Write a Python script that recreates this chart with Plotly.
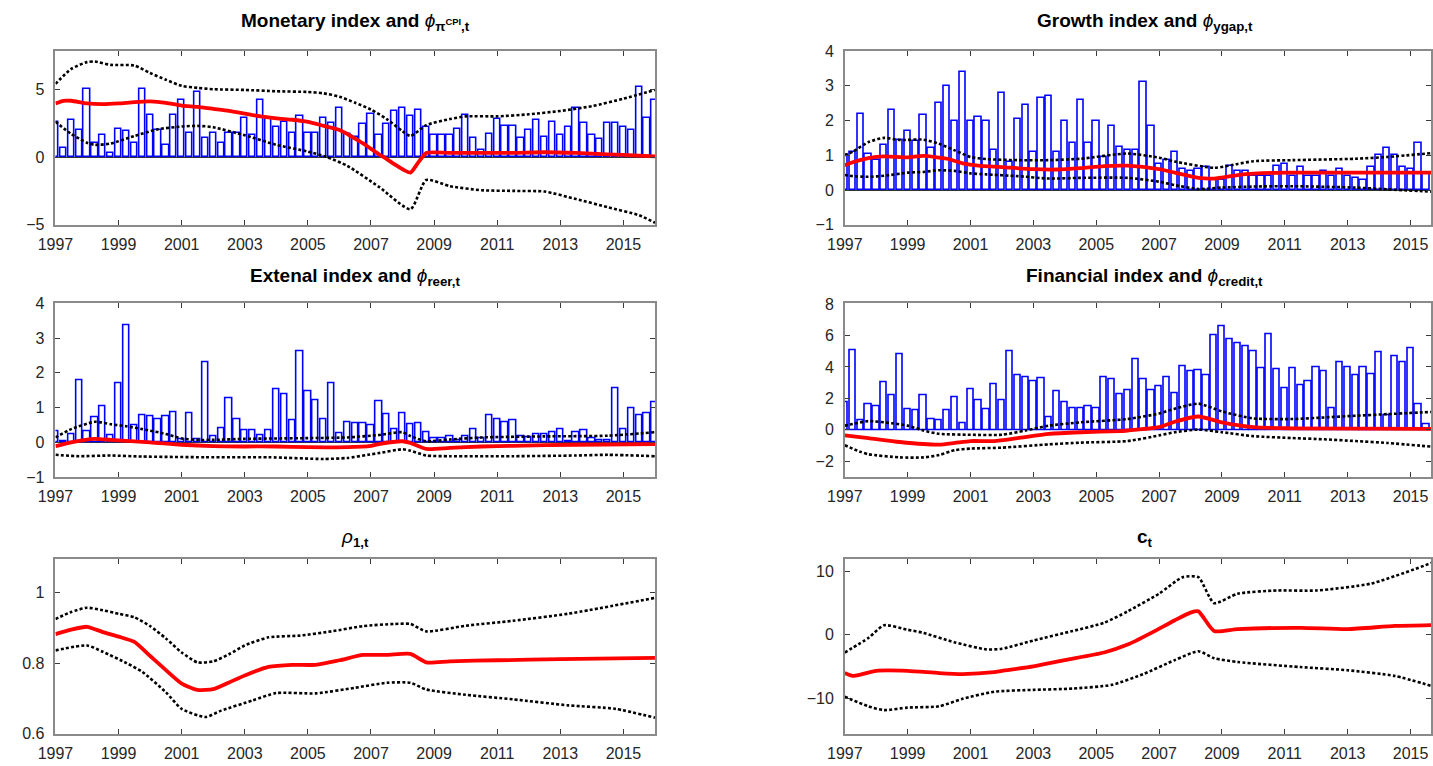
import plotly.graph_objects as go

# ---------------------------------------------------------------- data
# quarterly index values, first observation 1997Q1
monetary_index = [2.6, 0.7, 2.7, 2.0, 5.0, 1.0, 1.6, 0.3, 2.1, 1.9, 1.0, 5.0, 3.1, 2.0, 0.9, 3.1,
                  4.2, 1.8, 4.8, 1.4, 1.8, 1.0, 1.8, 1.8, 2.9, 1.6, 4.2, 2.8, 2.2, 2.6, 1.8, 3.0,
                  1.8, 1.8, 2.9, 2.5, 3.6, 1.7, 1.5, 2.4, 3.2, 1.6, 2.4, 3.4, 3.6, 3.0, 3.5, 2.2,
                  1.6, 1.6, 1.6, 2.1, 3.1, 1.4, 0.5, 1.7, 2.8, 2.3, 2.3, 1.4, 2.0, 2.7, 1.5, 2.6,
                  1.6, 2.2, 3.6, 2.5, 1.6, 1.3, 2.5, 2.5, 2.2, 2.0, 5.2, 2.9, 4.2]
growth_index = [1.0, 1.1, 2.2, 1.05, 0.85, 1.3, 2.3, 1.45, 1.7, 1.4, 2.15, 1.2, 2.5, 3.0, 2.0, 3.4,
                2.0, 2.1, 2.0, 1.15, 2.8, 0.8, 2.05, 2.45, 1.1, 2.65, 2.7, 1.1, 2.0, 1.35, 2.6, 1.35,
                2.0, 0.95, 1.85, 1.25, 1.15, 1.15, 3.1, 1.85, 0.75, 0.85, 1.1, 0.6, 0.55, 0.6, 0.65, 0.3,
                0.3, 0.7, 0.55, 0.55, 0.4, 0.4, 0.4, 0.7, 0.75, 0.4, 0.65, 0.4, 0.4, 0.55, 0.4, 0.6,
                0.4, 0.35, 0.3, 0.65, 1.0, 1.2, 1.0, 0.65, 0.6, 1.35, 0.45]
external_index = [0.33, 0.03, 0.24, 1.78, 0.33, 0.73, 1.05, 0.2, 1.7, 3.37, 0.48, 0.79, 0.74, 0.67, 0.74, 0.87,
                  0.1, 0.83, 0.08, 2.3, 0.16, 0.4, 1.27, 0.67, 0.35, 0.35, 0.19, 0.35, 1.52, 1.38, 0.63, 2.63,
                  1.46, 1.2, 0.65, 1.7, 0.25, 0.58, 0.55, 0.55, 0.5, 1.18, 0.8, 0.38, 0.83, 0.52, 0.55, 0.28,
                  0.12, 0.12, 0.18, 0.07, 0.18, 0.38, 0.12, 0.78, 0.67, 0.57, 0.62, 0.18, 0.15, 0.22, 0.22, 0.28,
                  0.36, 0.03, 0.28, 0.35, 0.12, 0.07, 0.06, 1.55, 0.37, 0.98, 0.78, 0.83, 1.15]
financial_index = [1.77, 5.06, 0.63, 1.63, 1.52, 3.02, 2.2, 4.8, 1.31, 1.27, 2.19, 0.65, 0.6, 1.27, 2.1, 0.44,
                   2.6, 1.9, 1.31, 2.9, 1.9, 5.0, 3.44, 3.33, 3.12, 3.27, 0.83, 2.46, 1.77, 1.38, 1.38, 1.52,
                   1.38, 3.35, 3.19, 2.27, 2.5, 4.48, 3.19, 2.5, 2.77, 3.35, 2.35, 4.02, 3.71, 3.77, 3.44, 6.0,
                   6.56, 5.77, 5.52, 5.31, 5.02, 3.92, 6.06, 3.85, 2.65, 3.9, 2.81, 3.06, 3.96, 3.71, 1.4, 4.27,
                   3.98, 3.46, 3.96, 3.52, 4.96, 0.9, 4.69, 4.29, 5.17, 1.63, 0.38]

# time-varying coefficients: posterior median and error bands (time, value)
phi_cpi_med_t = [1997.0, 1997.25, 1997.5, 1998.0, 1998.5, 1999.0, 1999.5, 2000.0, 2000.5, 2001.0,
                 2001.5, 2002.0, 2002.5, 2003.0, 2003.5, 2004.0, 2004.5, 2005.0, 2005.5, 2006.0,
                 2006.25, 2006.5, 2006.75, 2007.0, 2007.25, 2007.5, 2007.75, 2008.0, 2008.25, 2008.5,
                 2008.75, 2009.5, 2010.5, 2011.5, 2012.5, 2013.5, 2014.5, 2015.5, 2016.0]
phi_cpi_med = [3.95, 4.15, 4.15, 3.95, 3.9, 3.95, 4.05, 4.1, 4.0, 3.8,
               3.7, 3.55, 3.4, 3.2, 3.0, 2.85, 2.75, 2.6, 2.3, 2.0,
               1.7, 1.35, 1.0, 0.6, 0.2, -0.15, -0.55, -0.9, -1.15, -0.4,
               0.3, 0.3, 0.3, 0.3, 0.35, 0.3, 0.2, 0.1, 0.05]
phi_cpi_up_t = [1997.0, 1997.5, 1998.0, 1998.25, 1998.75, 1999.5, 2000.0, 2000.5, 2001.0, 2001.5,
                2002.0, 2003.0, 2004.0, 2005.0, 2005.5, 2006.0, 2006.5, 2007.0, 2007.5, 2008.0,
                2008.25, 2008.75, 2009.5, 2010.0, 2011.0, 2012.0, 2013.0, 2014.0, 2015.0, 2016.0]
phi_cpi_up = [5.4, 6.5, 7.0, 7.05, 6.8, 6.75, 6.2, 5.7, 5.25, 5.1,
              5.0, 4.95, 4.85, 4.8, 4.7, 4.45, 4.0, 3.5, 2.8, 1.9,
              1.55, 2.35, 2.8, 3.0, 3.0, 3.15, 3.4, 3.75, 4.3, 4.95]
phi_cpi_lo_t = [1997.0, 1997.5, 1998.0, 1998.25, 1998.75, 1999.5, 2000.25, 2001.0, 2001.5, 2002.0,
                2003.0, 2004.0, 2005.0, 2005.6, 2006.25, 2007.25, 2008.25, 2008.75, 2009.5, 2010.5,
                2011.5, 2012.5, 2013.5, 2014.5, 2015.5, 2016.0]
phi_cpi_lo = [2.6, 1.7, 1.05, 0.9, 1.0, 1.55, 2.05, 2.25, 2.3, 2.2,
              1.6, 0.9, 0.4, 0.0, -0.65, -2.2, -3.85, -1.7, -2.15, -2.45,
              -2.5, -2.55, -3.1, -3.7, -4.3, -4.85]

phi_ygap_med_t = [1997.0, 1997.25, 1997.75, 1998.25, 1999.0, 1999.5, 2000.25, 2000.75, 2001.25, 2002.0,
                  2003.0, 2003.75, 2004.5, 2005.25, 2006.0, 2007.0, 2007.5, 2008.25, 2008.75, 2009.5,
                  2010.0, 2011.0, 2012.5, 2014.0, 2015.75]
phi_ygap_med = [0.71, 0.8, 0.92, 0.97, 0.94, 0.98, 0.9, 0.77, 0.7, 0.66,
                0.6, 0.59, 0.63, 0.69, 0.7, 0.6, 0.5, 0.35, 0.33, 0.43,
                0.47, 0.5, 0.5, 0.5, 0.5]
phi_ygap_up_t = [1997.0, 1997.25, 1997.75, 1998.25, 1998.75, 1999.5, 2000.0, 2000.5, 2001.0, 2001.5,
                 2002.5, 2003.5, 2004.5, 2006.0, 2007.0, 2007.5, 2008.75, 2009.5, 2010.0, 2011.25,
                 2013.25, 2014.25, 2015.75]
phi_ygap_up = [1.0, 1.1, 1.38, 1.5, 1.44, 1.45, 1.33, 1.14, 0.95, 0.89,
               0.86, 0.86, 0.9, 1.05, 0.93, 0.82, 0.64, 0.75, 0.83, 0.86,
               0.9, 0.95, 1.07]
phi_ygap_lo_t = [1997.0, 1997.25, 1997.75, 1998.25, 1999.0, 1999.5, 2000.0, 2000.5, 2001.0, 2001.5,
                 2002.5, 2003.5, 2004.5, 2006.0, 2007.0, 2007.5, 2008.25, 2009.0, 2010.0, 2011.25,
                 2013.25, 2014.25, 2015.75]
phi_ygap_lo = [0.43, 0.4, 0.38, 0.41, 0.5, 0.52, 0.57, 0.55, 0.48, 0.45,
               0.4, 0.33, 0.35, 0.35, 0.24, 0.14, 0.03, 0.07, 0.1, 0.11,
               0.07, 0.02, -0.05]

phi_reer_med_t = [1997.0, 1997.5, 1998.25, 1998.75, 2000.0, 2001.0, 2002.0, 2003.0, 2004.0, 2005.0,
                  2006.25, 2007.0, 2007.25, 2008.0, 2008.25, 2008.75, 2009.5, 2010.5, 2011.5, 2013.5,
                  2016.0]
phi_reer_med = [-0.11, 0.0, 0.1, 0.07, 0.0, -0.07, -0.11, -0.12, -0.12, -0.14,
                -0.14, -0.1, -0.05, 0.03, -0.02, -0.19, -0.16, -0.12, -0.1, -0.07,
                -0.05]
phi_reer_up_t = [1997.0, 1997.5, 1998.25, 1998.75, 1999.25, 1999.75, 2000.5, 2001.0, 2001.5, 2002.0,
                 2003.0, 2004.0, 2005.0, 2006.25, 2007.25, 2008.0, 2008.25, 2008.75, 2009.5, 2010.5,
                 2012.5, 2014.5, 2016.0]
phi_reer_up = [0.14, 0.38, 0.59, 0.52, 0.46, 0.38, 0.24, 0.11, 0.07, 0.07,
               0.1, 0.11, 0.12, 0.14, 0.21, 0.29, 0.18, 0.03, 0.08, 0.14,
               0.17, 0.19, 0.29]
phi_reer_lo_t = [1997.0, 1997.75, 1998.75, 1999.75, 2001.75, 2003.75, 2005.5, 2006.25, 2006.9, 2007.25,
                 2008.0, 2008.25, 2008.75, 2009.5, 2011.5, 2013.5, 2014.5, 2016.0]
phi_reer_lo = [-0.36, -0.4, -0.38, -0.41, -0.43, -0.43, -0.48, -0.45, -0.36, -0.31,
               -0.2, -0.24, -0.38, -0.4, -0.4, -0.38, -0.36, -0.4]

phi_credit_med_t = [1997.0, 1997.75, 1998.75, 2000.0, 2000.5, 2001.0, 2001.75, 2002.5, 2003.5, 2004.5,
                    2005.75, 2006.0, 2007.0, 2007.5, 2008.25, 2009.0, 2010.0, 2011.25, 2015.75]
phi_credit_med = [-0.35, -0.52, -0.77, -0.94, -0.83, -0.71, -0.71, -0.52, -0.25, -0.15,
                  -0.08, -0.04, 0.17, 0.52, 0.85, 0.48, 0.17, 0.1, 0.06]
phi_credit_up_t = [1997.0, 1997.25, 1997.75, 1998.5, 1999.0, 1999.5, 2000.0, 2001.0, 2002.0, 2002.75,
                   2003.5, 2004.5, 2006.0, 2007.0, 2007.5, 2008.25, 2009.0, 2010.0, 2011.25, 2012.25,
                   2013.25, 2014.25, 2015.75]
phi_credit_up = [0.27, 0.37, 0.56, 0.42, 0.27, -0.04, -0.25, -0.31, -0.31, -0.04,
                 0.27, 0.48, 0.69, 1.04, 1.35, 1.67, 1.17, 0.73, 0.69, 0.79,
                 0.9, 1.0, 1.15]
phi_credit_lo_t = [1997.0, 1997.5, 1997.75, 1998.75, 1999.5, 2000.0, 2000.5, 2001.0, 2002.0, 2003.5,
                   2004.5, 2006.0, 2007.0, 2007.5, 2008.25, 2009.0, 2010.0, 2011.25, 2012.25, 2013.25,
                   2014.25, 2015.75]
phi_credit_lo = [-0.98, -1.4, -1.55, -1.75, -1.75, -1.6, -1.29, -1.19, -1.13, -0.92,
                 -0.81, -0.71, -0.35, -0.15, 0.02, -0.15, -0.4, -0.52, -0.6, -0.71,
                 -0.83, -1.08]

rho_med_t = [1997.0, 1997.5, 1998.0, 1998.5, 1999.0, 1999.5, 2000.0, 2000.5, 2001.0, 2001.5,
             2002.0, 2002.5, 2003.0, 2003.75, 2004.5, 2005.25, 2006.0, 2006.75, 2007.5, 2008.25,
             2008.75, 2009.5, 2011.0, 2013.0, 2016.0]
rho_med = [0.882, 0.895, 0.903, 0.888, 0.875, 0.86, 0.82, 0.78, 0.742, 0.724,
           0.726, 0.745, 0.765, 0.789, 0.795, 0.795, 0.808, 0.823, 0.823, 0.826,
           0.802, 0.805, 0.808, 0.811, 0.815]
rho_up_t = [1997.0, 1997.5, 1998.0, 1998.5, 1999.0, 1999.5, 2000.0, 2000.5, 2001.0, 2001.5,
            2002.0, 2002.5, 2003.0, 2003.75, 2004.75, 2005.75, 2006.75, 2007.75, 2008.25, 2008.75,
            2010.0, 2011.5, 2013.25, 2016.0]
rho_up = [0.925, 0.945, 0.957, 0.95, 0.94, 0.93, 0.905, 0.87, 0.83, 0.802,
          0.805, 0.825, 0.85, 0.873, 0.878, 0.89, 0.905, 0.911, 0.911, 0.89,
          0.906, 0.92, 0.94, 0.985]
rho_lo_t = [1997.0, 1998.0, 1998.5, 1999.25, 1999.75, 2000.5, 2001.0, 2001.75, 2002.25, 2003.25,
            2004.0, 2005.25, 2006.5, 2007.5, 2008.25, 2008.75, 2010.0, 2011.5, 2013.25, 2014.75,
            2016.0]
rho_lo = [0.836, 0.85, 0.832, 0.8, 0.775, 0.717, 0.67, 0.647, 0.665, 0.694,
          0.715, 0.714, 0.73, 0.744, 0.744, 0.725, 0.71, 0.697, 0.68, 0.67,
          0.645]

c_med_t = [1997.0, 1997.25, 1997.5, 1998.0, 1999.0, 2000.0, 2000.75, 2001.75, 2002.0, 2003.0,
           2004.0, 2005.25, 2006.0, 2006.75, 2007.5, 2008.0, 2008.25, 2008.75, 2009.5, 2011.5,
           2013.0, 2014.5, 2015.75]
c_med = [-6.05, -6.5, -6.3, -5.7, -5.7, -6.05, -6.2, -5.9, -5.7, -5.0,
         -4.0, -2.8, -1.55, 0.3, 2.3, 3.5, 3.7, 0.6, 0.9, 1.1,
         0.9, 1.4, 1.55]
c_up_t = [1997.0, 1997.75, 1998.25, 1999.0, 1999.5, 2000.5, 2001.5, 2002.0, 2003.0, 2004.25,
          2005.25, 2006.0, 2007.0, 2007.75, 2008.25, 2008.75, 2009.5, 2010.75, 2012.0, 2013.75,
          2015.75]
c_up = [-2.8, -0.5, 1.5, 0.8, 0.3, -1.2, -2.3, -2.2, -0.9, 0.6,
        1.9, 3.7, 6.5, 9.1, 9.1, 5.0, 6.5, 7.0, 7.0, 8.1,
        11.5]
c_lo_t = [1997.0, 1997.75, 1998.25, 1999.0, 2000.0, 2000.75, 2001.75, 2003.0, 2004.25, 2005.5,
          2006.5, 2007.5, 2008.25, 2008.75, 2009.5, 2011.5, 2013.0, 2014.5, 2015.75]
c_lo = [-9.8, -11.3, -11.9, -11.5, -11.3, -10.1, -9.0, -8.7, -8.5, -7.9,
        -6.2, -4.0, -2.6, -3.7, -4.3, -5.1, -5.6, -6.5, -8.2]

year_ticks = [1997, 1999, 2001, 2003, 2005, 2007, 2009, 2011, 2013, 2015]

titles = [
    "<b>Monetary index and </b><i>ϕ</i><sub><b>π<sup>CPI</sup>,t</b></sub>",
    "<b>Growth index and </b><i>ϕ</i><sub><b>ygap,t</b></sub>",
    "<b>Extenal index and </b><i>ϕ</i><sub><b>reer,t</b></sub>",
    "<b>Financial index and </b><i>ϕ</i><sub><b>credit,t</b></sub>",
    "<i>ρ</i><sub><b>1,t</b></sub>",
    "<b>c</b><sub><b>t</b></sub>",
]


def quarterly_dates(values):
    return [1997 + k / 4 for k in range(len(values))]


# ---------------------------------------------------------------- layout
W, H = 1433, 766
FONT = "Liberation Sans, Arial, Helvetica, sans-serif"

# plot boxes in pixels: (left, right, top, bottom)
col_px = [(38, 646), (838.5, 1433)]
row_px = [(44, 221.7), (302, 479.7), (564, 742)]
x_ranges = [[1997, 2016], [1997, 1997 + (1433 - 838.5) / 31.875]]
y_ranges = [[-5, 7.82], [-1, 4], [-1, 4], [-3, 8.05], [0.6, 1.094], [-15.6, 11.9]]
y_ticks = [[-5, 0, 5], [-1, 0, 1, 2, 3, 4], [-1, 0, 1, 2, 3, 4],
           [-2, 0, 2, 4, 6, 8], [0.6, 0.8, 1.0], [-10, 0, 10]]
# vertical centre of each title, in pixels above the top of its box
title_gap = [30, 30, 27, 27, 22, 22]

panels = [
    dict(bars=monetary_index,
         lines=[(phi_cpi_up_t, phi_cpi_up), (phi_cpi_lo_t, phi_cpi_lo)],
         med=(phi_cpi_med_t, phi_cpi_med)),
    dict(bars=growth_index,
         lines=[(phi_ygap_up_t, phi_ygap_up), (phi_ygap_lo_t, phi_ygap_lo)],
         med=(phi_ygap_med_t, phi_ygap_med)),
    dict(bars=external_index,
         lines=[(phi_reer_up_t, phi_reer_up), (phi_reer_lo_t, phi_reer_lo)],
         med=(phi_reer_med_t, phi_reer_med)),
    dict(bars=financial_index,
         lines=[(phi_credit_up_t, phi_credit_up), (phi_credit_lo_t, phi_credit_lo)],
         med=(phi_credit_med_t, phi_credit_med)),
    dict(bars=None,
         lines=[(rho_up_t, rho_up), (rho_lo_t, rho_lo)],
         med=(rho_med_t, rho_med)),
    dict(bars=None,
         lines=[(c_up_t, c_up), (c_lo_t, c_lo)],
         med=(c_med_t, c_med)),
]

fig = go.Figure()
layout = dict(
    width=W, height=H,
    margin=dict(l=0, r=0, t=0, b=0),
    paper_bgcolor="white", plot_bgcolor="white",
    showlegend=False,
    font=dict(family=FONT, size=16, color="#262626"),
    bargap=0,
    annotations=[],
)

for k, p in enumerate(panels):
    row, col = divmod(k, 2)
    xa = "x" if k == 0 else f"x{k + 1}"
    ya = "y" if k == 0 else f"y{k + 1}"
    l, r = col_px[col]
    t, b = row_px[row]

    if p["bars"] is not None:
        fig.add_trace(go.Bar(
            x=quarterly_dates(p["bars"]), y=p["bars"], width=0.2,
            marker=dict(color="rgba(255,255,255,0)",
                        line=dict(color="#0000ff", width=1.6)),
            xaxis=xa, yaxis=ya, hoverinfo="x+y"))
    for tt, vv in p["lines"]:
        fig.add_trace(go.Scatter(
            x=tt, y=vv, mode="lines",
            line=dict(color="black", width=2.6, dash="3px,2.2px",
                      shape="spline", smoothing=0.6),
            xaxis=xa, yaxis=ya))
    fig.add_trace(go.Scatter(
        x=p["med"][0], y=p["med"][1], mode="lines",
        line=dict(color="#ff0000", width=3.8, shape="spline", smoothing=0.6),
        xaxis=xa, yaxis=ya))

    axis_common = dict(
        showline=True, linecolor="#8a8a8a", linewidth=1.6, mirror="ticks",
        ticks="inside", ticklen=5, tickwidth=1, tickcolor="#3a3a3a",
        showgrid=False, tickfont=dict(family=FONT, size=16, color="#262626"),
    )
    layout["xaxis" if k == 0 else f"xaxis{k + 1}"] = dict(
        axis_common, domain=[l / W, r / W], range=x_ranges[col],
        tickvals=year_ticks, ticktext=[str(v) for v in year_ticks],
        anchor=ya, zeroline=False, ticklabelstandoff=4)
    layout["yaxis" if k == 0 else f"yaxis{k + 1}"] = dict(
        axis_common, domain=[1 - b / H, 1 - t / H], range=y_ranges[k],
        tickvals=y_ticks[k], anchor=xa, ticklabelstandoff=6,
        zeroline=p["bars"] is not None, zerolinecolor="#333333", zerolinewidth=1.2)

    full_right = l + 608 if col == 1 else r
    layout["annotations"].append(dict(
        text=titles[k], xref="paper", yref="paper",
        x=(l + full_right) / 2 / W, y=1 - (t - title_gap[k]) / H,
        xanchor="center", yanchor="middle", showarrow=False,
        font=dict(family=FONT, size=19, color="black")))

fig.update_layout(**layout)
fig.write_html("out.html")
